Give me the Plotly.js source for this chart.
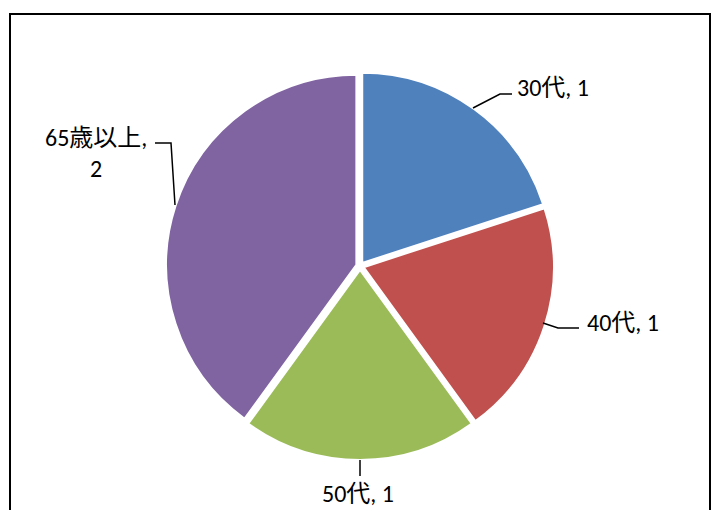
<!DOCTYPE html>
<html>
<head>
<meta charset="utf-8">
<script src="https://cdn.plot.ly/plotly-3.0.1.min.js"></script>
<style>html,body{margin:0;padding:0;background:#fff;}#chart{width:718px;height:510px;}</style>
</head>
<body>
<div id="chart"></div>
<script>
const categories = ["30代", "40代", "50代", "65歳以上"];
const counts = [1, 1, 1, 2];
const colors = ["#4F81BD", "#C0504D", "#9BBB59", "#8064A2"];
const labelTexts = ["30代, 1", "40代, 1", "50代, 1", "65歳以上,<br>2"];

const W = 718, H = 510;
const px = v => v / W;
const py = v => 1 - v / H;

// label text centres (pixels)
const labelPos = [[553, 87], [623, 322], [358, 493], [96, 153]];
// leader line polylines (pixels)
const leaders = [
  [[473, 108], [500, 94], [512, 94]],
  [[543, 323], [558, 328], [579, 328]],
  [[360, 460], [360, 476]],
  [[155, 143], [171, 143], [175, 205]]
];

const font = "Carlito, 'Noto Sans CJK JP', 'Noto Sans', sans-serif";

const trace = {
  type: "pie",
  labels: categories,
  values: counts,
  sort: false,
  direction: "clockwise",
  rotation: 0,
  pull: 0.02,
  marker: {colors: colors, line: {color: "#ffffff", width: 2}},
  textinfo: "none",
  hoverinfo: "label+value",
  showlegend: false,
  domain: {x: [px(360 - 194), px(360 + 194)], y: [(244 - 194) / H, (244 + 194) / H]}
};

const annotations = labelPos.map((p, i) => ({
  xref: "paper", yref: "paper",
  x: px(p[0]), y: py(p[1]),
  xanchor: "center", yanchor: "middle",
  text: labelTexts[i],
  showarrow: false,
  font: {family: font, size: 24, color: "#000"},
  align: "center"
}));

const leaderShapes = leaders.map(pts => ({
  type: "path", xref: "paper", yref: "paper",
  path: pts.map((q, j) => (j ? "L" : "M") + px(q[0]) + "," + py(q[1])).join(" "),
  line: {color: "#000", width: 1.5}
}));

const layout = {
  width: W, height: H,
  margin: {l: 0, r: 0, t: 0, b: 0},
  paper_bgcolor: "#fff",
  font: {family: font},
  annotations: annotations,
  shapes: [{
    type: "rect", xref: "paper", yref: "paper",
    x0: px(10), x1: px(710), y0: -0.2, y1: py(14),
    line: {color: "#000", width: 2}
  }].concat(leaderShapes)
};

Plotly.newPlot("chart", [trace], layout, {displayModeBar: false, staticPlot: true});
</script>
</body>
</html>
